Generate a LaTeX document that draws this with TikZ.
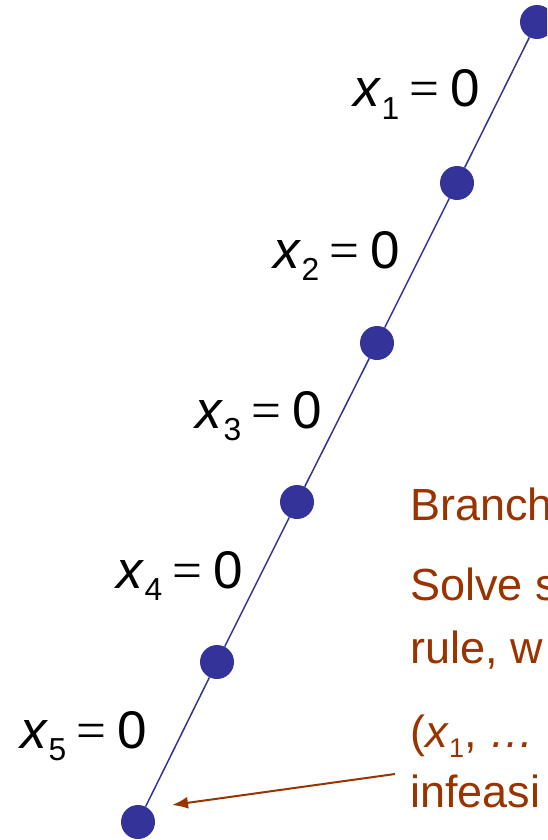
\documentclass[tikz,border=0pt]{standalone}
\usepackage{fontspec}
\setmainfont{Liberation Sans}
\newfontfamily\eqfont{Liberation Serif}
\usetikzlibrary{arrows.meta}
\definecolor{navy}{RGB}{51,51,153}
\definecolor{rust}{RGB}{153,51,0}
\newcommand{\idx}[1]{\raisebox{-0.24em}{\scalebox{0.6}{#1}}}
\newcommand{\fixed}[1]{\textit{x}\idx{#1}\hspace{0.2em}{\eqfont =}\hspace{0.2em}0}
\tikzset{
  >={Latex[length=16pt,width=12pt]},
  dot/.style={circle,fill=navy,minimum size=34pt,inner sep=0pt},
  branch/.style={draw=navy,line width=1.5pt},
  lbl/.style={anchor=base east,inner sep=0pt,font=\fontsize{53}{60}\selectfont},
  note/.style={anchor=base west,inner sep=0pt,text=rust,font=\fontsize{45}{52}\selectfont},
  pointer/.style={->,draw=rust,line width=2pt},
}

\begin{document}
\begin{tikzpicture}[x=1pt,y=-1pt]
  \useasboundingbox (0,0) rectangle (547,840);
  \clip (0,0) rectangle (547,840);
  % chain of fixings
  \node[dot] (n1) at (537,22) {};
  \node[dot] (n2) at (457,183) {};
  \node[dot] (n3) at (377,343) {};
  \node[dot] (n4) at (297,502) {};
  \node[dot] (n5) at (217,662) {};
  \node[dot] (n6) at (138,822) {};
  \draw[branch] (n1) -- (n2) -- (n3) -- (n4) -- (n5) -- (n6);
  \node[lbl] (l1) at (480,107) {\fixed{1}};
  \node[lbl] (l2) at (400,268) {\fixed{2}};
  \node[lbl] (l3) at (322,428) {\fixed{3}};
  \node[lbl] (l4) at (243,588) {\fixed{4}};
  \node[lbl] (l5) at (147,748) {\fixed{5}};
  % text on the right
  \node[note] (t1) at (410,520) {Branch};
  \node[note] (t2) at (410,600) {Solve s};
  \node[note] (t3) at (410,663) {rule, w};
  \node[note] (t4) at (410,747) {(\textit{x}\idx{1}, \textit{…}};
  \node[note] (t5) at (410,807) {infeasi};
  \coordinate (src) at (395,774);
  \coordinate (tip) at (172,805);
  \draw[pointer] (src) -- (tip);
\end{tikzpicture}
\end{document}
